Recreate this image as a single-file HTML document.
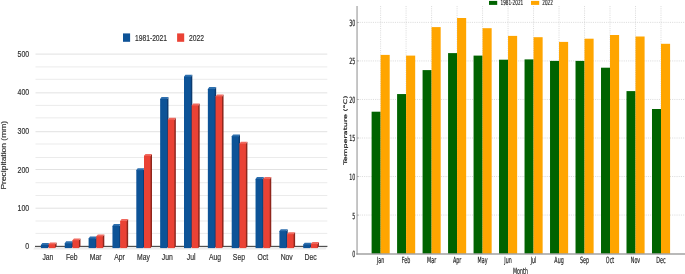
<!DOCTYPE html>
<html lang="en">
<head>
<meta charset="utf-8">
<title>Precipitation and temperature charts</title>
<style>
html,body{margin:0;padding:0;background:#fff;}
body{width:685px;height:274px;overflow:hidden;}
svg{display:block;}
.lt{font-family:"Liberation Sans",Arial,sans-serif;font-size:9px;fill:#303030;stroke:#303030;stroke-width:0.18px;}
.rt{font-family:"DejaVu Sans","Liberation Sans",sans-serif;font-size:8.6px;fill:#222;stroke:#222;stroke-width:0.2px;}
.rg{stroke:#cfcfcf;stroke-width:0.7;stroke-dasharray:1.1 1.1;}
</style>
</head>
<body>
<svg width="685" height="274" viewBox="0 0 685 274">
<rect width="685" height="274" fill="#ffffff"/>
<defs><filter id="soft" x="0" y="0" width="685" height="274" filterUnits="userSpaceOnUse"><feGaussianBlur stdDeviation="0.4"/></filter></defs>
<g id="precip-shapes" filter="url(#soft)">
<rect x="35.5" y="232.90" width="291.8" height="1" fill="#ebebeb"/>
<rect x="35.5" y="220.50" width="291.8" height="1" fill="#ebebeb"/>
<rect x="35.5" y="207.70" width="291.8" height="1" fill="#e2e2e2"/>
<rect x="35.5" y="195.00" width="291.8" height="1" fill="#ebebeb"/>
<rect x="35.5" y="182.20" width="291.8" height="1" fill="#ebebeb"/>
<rect x="35.5" y="169.00" width="291.8" height="1" fill="#e2e2e2"/>
<rect x="35.5" y="157.00" width="291.8" height="1" fill="#ebebeb"/>
<rect x="35.5" y="143.50" width="291.8" height="1" fill="#ebebeb"/>
<rect x="35.5" y="131.20" width="291.8" height="1" fill="#e2e2e2"/>
<rect x="35.5" y="117.35" width="291.8" height="1" fill="#ebebeb"/>
<rect x="35.5" y="104.90" width="291.8" height="1" fill="#ebebeb"/>
<rect x="35.5" y="92.35" width="291.8" height="1" fill="#e2e2e2"/>
<rect x="35.5" y="78.80" width="291.8" height="1" fill="#ebebeb"/>
<rect x="35.5" y="66.40" width="291.8" height="1" fill="#ebebeb"/>
<rect x="35.5" y="53.60" width="291.8" height="1" fill="#e2e2e2"/>
<polygon points="35,246.6 327.3,246.6 325.6,249.4 33.2,249.4" fill="#ececec"/>
<rect x="35" y="245.85" width="292.4" height="0.95" fill="#2b2b2b"/>
<polygon points="46.80,244.90 47.80,244.90 49.20,243.00 49.20,246.20 47.80,248.10 46.80,248.10" fill="#0a3a70"/>
<polygon points="40.90,245.50 40.90,244.90 42.30,243.00 49.20,243.00 47.80,244.90 47.80,245.50" fill="#2f6fae"/>
<rect x="40.90" y="244.90" width="6.90" height="3.20" fill="#0e5397"/>
<polygon points="54.10,244.30 55.10,244.30 56.60,242.40 56.60,246.20 55.10,248.10 54.10,248.10" fill="#8f271e"/>
<polygon points="48.60,244.90 48.60,244.30 50.10,242.40 56.60,242.40 55.10,244.30 55.10,244.90" fill="#f0695e"/>
<rect x="48.60" y="244.30" width="6.50" height="3.80" fill="#ea4336"/>
<polygon points="70.65,243.20 71.65,243.20 73.05,241.30 73.05,246.20 71.65,248.10 70.65,248.10" fill="#0a3a70"/>
<polygon points="64.75,243.80 64.75,243.20 66.15,241.30 73.05,241.30 71.65,243.20 71.65,243.80" fill="#2f6fae"/>
<rect x="64.75" y="243.20" width="6.90" height="4.90" fill="#0e5397"/>
<polygon points="77.95,240.30 78.95,240.30 80.45,238.40 80.45,246.20 78.95,248.10 77.95,248.10" fill="#8f271e"/>
<polygon points="72.45,240.90 72.45,240.30 73.95,238.40 80.45,238.40 78.95,240.30 78.95,240.90" fill="#f0695e"/>
<rect x="72.45" y="240.30" width="6.50" height="7.80" fill="#ea4336"/>
<polygon points="94.50,238.50 95.50,238.50 96.90,236.60 96.90,246.20 95.50,248.10 94.50,248.10" fill="#0a3a70"/>
<polygon points="88.60,239.10 88.60,238.50 90.00,236.60 96.90,236.60 95.50,238.50 95.50,239.10" fill="#2f6fae"/>
<rect x="88.60" y="238.50" width="6.90" height="9.60" fill="#0e5397"/>
<polygon points="101.80,236.30 102.80,236.30 104.30,234.40 104.30,246.20 102.80,248.10 101.80,248.10" fill="#8f271e"/>
<polygon points="96.30,236.90 96.30,236.30 97.80,234.40 104.30,234.40 102.80,236.30 102.80,236.90" fill="#f0695e"/>
<rect x="96.30" y="236.30" width="6.50" height="11.80" fill="#ea4336"/>
<polygon points="118.35,225.90 119.35,225.90 120.75,224.00 120.75,246.20 119.35,248.10 118.35,248.10" fill="#0a3a70"/>
<polygon points="112.45,226.50 112.45,225.90 113.85,224.00 120.75,224.00 119.35,225.90 119.35,226.50" fill="#2f6fae"/>
<rect x="112.45" y="225.90" width="6.90" height="22.20" fill="#0e5397"/>
<polygon points="125.65,221.00 126.65,221.00 128.15,219.10 128.15,246.20 126.65,248.10 125.65,248.10" fill="#8f271e"/>
<polygon points="120.15,221.60 120.15,221.00 121.65,219.10 128.15,219.10 126.65,221.00 126.65,221.60" fill="#f0695e"/>
<rect x="120.15" y="221.00" width="6.50" height="27.10" fill="#ea4336"/>
<polygon points="142.20,170.10 143.20,170.10 144.60,168.20 144.60,246.20 143.20,248.10 142.20,248.10" fill="#0a3a70"/>
<polygon points="136.30,170.70 136.30,170.10 137.70,168.20 144.60,168.20 143.20,170.10 143.20,170.70" fill="#2f6fae"/>
<rect x="136.30" y="170.10" width="6.90" height="78.00" fill="#0e5397"/>
<polygon points="149.50,155.80 150.50,155.80 152.00,153.90 152.00,246.20 150.50,248.10 149.50,248.10" fill="#8f271e"/>
<polygon points="144.00,156.40 144.00,155.80 145.50,153.90 152.00,153.90 150.50,155.80 150.50,156.40" fill="#f0695e"/>
<rect x="144.00" y="155.80" width="6.50" height="92.30" fill="#ea4336"/>
<polygon points="166.05,98.90 167.05,98.90 168.45,97.00 168.45,246.20 167.05,248.10 166.05,248.10" fill="#0a3a70"/>
<polygon points="160.15,99.50 160.15,98.90 161.55,97.00 168.45,97.00 167.05,98.90 167.05,99.50" fill="#2f6fae"/>
<rect x="160.15" y="98.90" width="6.90" height="149.20" fill="#0e5397"/>
<polygon points="173.35,119.70 174.35,119.70 175.85,117.80 175.85,246.20 174.35,248.10 173.35,248.10" fill="#8f271e"/>
<polygon points="167.85,120.30 167.85,119.70 169.35,117.80 175.85,117.80 174.35,119.70 174.35,120.30" fill="#f0695e"/>
<rect x="167.85" y="119.70" width="6.50" height="128.40" fill="#ea4336"/>
<polygon points="189.90,76.70 190.90,76.70 192.30,74.80 192.30,246.20 190.90,248.10 189.90,248.10" fill="#0a3a70"/>
<polygon points="184.00,77.30 184.00,76.70 185.40,74.80 192.30,74.80 190.90,76.70 190.90,77.30" fill="#2f6fae"/>
<rect x="184.00" y="76.70" width="6.90" height="171.40" fill="#0e5397"/>
<polygon points="197.20,105.50 198.20,105.50 199.70,103.60 199.70,246.20 198.20,248.10 197.20,248.10" fill="#8f271e"/>
<polygon points="191.70,106.10 191.70,105.50 193.20,103.60 199.70,103.60 198.20,105.50 198.20,106.10" fill="#f0695e"/>
<rect x="191.70" y="105.50" width="6.50" height="142.60" fill="#ea4336"/>
<polygon points="213.75,89.00 214.75,89.00 216.15,87.10 216.15,246.20 214.75,248.10 213.75,248.10" fill="#0a3a70"/>
<polygon points="207.85,89.60 207.85,89.00 209.25,87.10 216.15,87.10 214.75,89.00 214.75,89.60" fill="#2f6fae"/>
<rect x="207.85" y="89.00" width="6.90" height="159.10" fill="#0e5397"/>
<polygon points="221.05,96.40 222.05,96.40 223.55,94.50 223.55,246.20 222.05,248.10 221.05,248.10" fill="#8f271e"/>
<polygon points="215.55,97.00 215.55,96.40 217.05,94.50 223.55,94.50 222.05,96.40 222.05,97.00" fill="#f0695e"/>
<rect x="215.55" y="96.40" width="6.50" height="151.70" fill="#ea4336"/>
<polygon points="237.60,136.30 238.60,136.30 240.00,134.40 240.00,246.20 238.60,248.10 237.60,248.10" fill="#0a3a70"/>
<polygon points="231.70,136.90 231.70,136.30 233.10,134.40 240.00,134.40 238.60,136.30 238.60,136.90" fill="#2f6fae"/>
<rect x="231.70" y="136.30" width="6.90" height="111.80" fill="#0e5397"/>
<polygon points="244.90,143.70 245.90,143.70 247.40,141.80 247.40,246.20 245.90,248.10 244.90,248.10" fill="#8f271e"/>
<polygon points="239.40,144.30 239.40,143.70 240.90,141.80 247.40,141.80 245.90,143.70 245.90,144.30" fill="#f0695e"/>
<rect x="239.40" y="143.70" width="6.50" height="104.40" fill="#ea4336"/>
<polygon points="261.45,178.90 262.45,178.90 263.85,177.00 263.85,246.20 262.45,248.10 261.45,248.10" fill="#0a3a70"/>
<polygon points="255.55,179.50 255.55,178.90 256.95,177.00 263.85,177.00 262.45,178.90 262.45,179.50" fill="#2f6fae"/>
<rect x="255.55" y="178.90" width="6.90" height="69.20" fill="#0e5397"/>
<polygon points="268.75,178.90 269.75,178.90 271.25,177.00 271.25,246.20 269.75,248.10 268.75,248.10" fill="#8f271e"/>
<polygon points="263.25,179.50 263.25,178.90 264.75,177.00 271.25,177.00 269.75,178.90 269.75,179.50" fill="#f0695e"/>
<rect x="263.25" y="178.90" width="6.50" height="69.20" fill="#ea4336"/>
<polygon points="285.30,231.10 286.30,231.10 287.70,229.20 287.70,246.20 286.30,248.10 285.30,248.10" fill="#0a3a70"/>
<polygon points="279.40,231.70 279.40,231.10 280.80,229.20 287.70,229.20 286.30,231.10 286.30,231.70" fill="#2f6fae"/>
<rect x="279.40" y="231.10" width="6.90" height="17.00" fill="#0e5397"/>
<polygon points="292.60,234.10 293.60,234.10 295.10,232.20 295.10,246.20 293.60,248.10 292.60,248.10" fill="#8f271e"/>
<polygon points="287.10,234.70 287.10,234.10 288.60,232.20 295.10,232.20 293.60,234.10 293.60,234.70" fill="#f0695e"/>
<rect x="287.10" y="234.10" width="6.50" height="14.00" fill="#ea4336"/>
<polygon points="309.15,244.60 310.15,244.60 311.55,242.70 311.55,246.20 310.15,248.10 309.15,248.10" fill="#0a3a70"/>
<polygon points="303.25,245.20 303.25,244.60 304.65,242.70 311.55,242.70 310.15,244.60 310.15,245.20" fill="#2f6fae"/>
<rect x="303.25" y="244.60" width="6.90" height="3.50" fill="#0e5397"/>
<polygon points="316.45,243.90 317.45,243.90 318.95,242.00 318.95,246.20 317.45,248.10 316.45,248.10" fill="#8f271e"/>
<polygon points="310.95,244.50 310.95,243.90 312.45,242.00 318.95,242.00 317.45,243.90 317.45,244.50" fill="#f0695e"/>
<rect x="310.95" y="243.90" width="6.50" height="4.20" fill="#ea4336"/>
<rect x="123" y="33.4" width="7.1" height="8.4" fill="#0e5397"/>
<rect x="177.1" y="33.4" width="7.1" height="8.4" fill="#ea4336"/>
</g>
<g id="temp-shapes" filter="url(#soft)">
<line x1="357.5" y1="215.06" x2="685" y2="215.06" class="rg"/>
<line x1="357.5" y1="176.53" x2="685" y2="176.53" class="rg"/>
<line x1="357.5" y1="138.00" x2="685" y2="138.00" class="rg"/>
<line x1="357.5" y1="99.46" x2="685" y2="99.46" class="rg"/>
<line x1="357.5" y1="60.93" x2="685" y2="60.93" class="rg"/>
<line x1="357.5" y1="22.39" x2="685" y2="22.39" class="rg"/>
<line x1="380.60" y1="6" x2="380.60" y2="253.60" class="rg"/>
<line x1="406.09" y1="6" x2="406.09" y2="253.60" class="rg"/>
<line x1="431.58" y1="6" x2="431.58" y2="253.60" class="rg"/>
<line x1="457.07" y1="6" x2="457.07" y2="253.60" class="rg"/>
<line x1="482.56" y1="6" x2="482.56" y2="253.60" class="rg"/>
<line x1="508.05" y1="6" x2="508.05" y2="253.60" class="rg"/>
<line x1="533.54" y1="6" x2="533.54" y2="253.60" class="rg"/>
<line x1="559.03" y1="6" x2="559.03" y2="253.60" class="rg"/>
<line x1="584.52" y1="6" x2="584.52" y2="253.60" class="rg"/>
<line x1="610.01" y1="6" x2="610.01" y2="253.60" class="rg"/>
<line x1="635.50" y1="6" x2="635.50" y2="253.60" class="rg"/>
<line x1="660.99" y1="6" x2="660.99" y2="253.60" class="rg"/>
<rect x="371.60" y="111.70" width="9.00" height="141.90" fill="#006400"/>
<rect x="380.60" y="54.90" width="9.10" height="198.70" fill="#ffa500"/>
<rect x="397.09" y="94.05" width="9.00" height="159.55" fill="#006400"/>
<rect x="406.09" y="55.60" width="9.10" height="198.00" fill="#ffa500"/>
<rect x="422.58" y="70.10" width="9.00" height="183.50" fill="#006400"/>
<rect x="431.58" y="27.10" width="9.10" height="226.50" fill="#ffa500"/>
<rect x="448.07" y="53.10" width="9.00" height="200.50" fill="#006400"/>
<rect x="457.07" y="18.00" width="9.10" height="235.60" fill="#ffa500"/>
<rect x="473.56" y="55.60" width="9.00" height="198.00" fill="#006400"/>
<rect x="482.56" y="28.20" width="9.10" height="225.40" fill="#ffa500"/>
<rect x="499.05" y="59.70" width="9.00" height="193.90" fill="#006400"/>
<rect x="508.05" y="35.90" width="9.10" height="217.70" fill="#ffa500"/>
<rect x="524.54" y="59.40" width="9.00" height="194.20" fill="#006400"/>
<rect x="533.54" y="37.20" width="9.10" height="216.40" fill="#ffa500"/>
<rect x="550.03" y="60.90" width="9.00" height="192.70" fill="#006400"/>
<rect x="559.03" y="41.90" width="9.10" height="211.70" fill="#ffa500"/>
<rect x="575.52" y="60.90" width="9.00" height="192.70" fill="#006400"/>
<rect x="584.52" y="38.70" width="9.10" height="214.90" fill="#ffa500"/>
<rect x="601.01" y="67.70" width="9.00" height="185.90" fill="#006400"/>
<rect x="610.01" y="35.00" width="9.10" height="218.60" fill="#ffa500"/>
<rect x="626.50" y="91.10" width="9.00" height="162.50" fill="#006400"/>
<rect x="635.50" y="36.50" width="9.10" height="217.10" fill="#ffa500"/>
<rect x="651.99" y="109.00" width="9.00" height="144.60" fill="#006400"/>
<rect x="660.99" y="43.80" width="9.10" height="209.80" fill="#ffa500"/>
<rect x="356.4" y="6" width="1.3" height="248.6" fill="#a8a8a8"/>
<rect x="356.3" y="253.4" width="328.70" height="1.2" fill="#8c8c8c"/>
<rect x="357.5" y="214.76" width="1.0" height="0.6" fill="#555"/>
<rect x="357.5" y="176.23" width="1.0" height="0.6" fill="#555"/>
<rect x="357.5" y="137.69" width="1.0" height="0.6" fill="#555"/>
<rect x="357.5" y="99.16" width="1.0" height="0.6" fill="#555"/>
<rect x="357.5" y="60.63" width="1.0" height="0.6" fill="#555"/>
<rect x="357.5" y="22.09" width="1.0" height="0.6" fill="#555"/>
<rect x="489" y="0.9" width="8.2" height="4" fill="#006400"/>
<rect x="531" y="0.9" width="8.2" height="4" fill="#ffa500"/>
</g>
<g id="precip-text">
<text transform="translate(29.2,249.17) scale(0.775,1)" text-anchor="end" class="lt">0</text>
<text transform="translate(29.2,210.92) scale(0.775,1)" text-anchor="end" class="lt">100</text>
<text transform="translate(29.2,172.92) scale(0.775,1)" text-anchor="end" class="lt">200</text>
<text transform="translate(29.2,134.42) scale(0.775,1)" text-anchor="end" class="lt">300</text>
<text transform="translate(29.2,95.27) scale(0.775,1)" text-anchor="end" class="lt">400</text>
<text transform="translate(29.2,57.42) scale(0.775,1)" text-anchor="end" class="lt">500</text>
<text transform="translate(47.90,260.25) scale(0.76,1)" text-anchor="middle" class="lt">Jan</text>
<text transform="translate(71.78,260.25) scale(0.76,1)" text-anchor="middle" class="lt">Feb</text>
<text transform="translate(95.66,260.25) scale(0.76,1)" text-anchor="middle" class="lt">Mar</text>
<text transform="translate(119.54,260.25) scale(0.76,1)" text-anchor="middle" class="lt">Apr</text>
<text transform="translate(143.42,260.25) scale(0.76,1)" text-anchor="middle" class="lt">May</text>
<text transform="translate(167.30,260.25) scale(0.76,1)" text-anchor="middle" class="lt">Jun</text>
<text transform="translate(191.18,260.25) scale(0.76,1)" text-anchor="middle" class="lt">Jul</text>
<text transform="translate(215.06,260.25) scale(0.76,1)" text-anchor="middle" class="lt">Aug</text>
<text transform="translate(238.94,260.25) scale(0.76,1)" text-anchor="middle" class="lt">Sep</text>
<text transform="translate(262.82,260.25) scale(0.76,1)" text-anchor="middle" class="lt">Oct</text>
<text transform="translate(286.70,260.25) scale(0.76,1)" text-anchor="middle" class="lt">Nov</text>
<text transform="translate(310.58,260.25) scale(0.76,1)" text-anchor="middle" class="lt">Dec</text>
<text transform="translate(6.1,155.25) rotate(-90) scale(0.94,0.76)" text-anchor="middle" class="lt">Precipitation (mm)</text>
<text transform="translate(134.9,40.5) scale(0.75,1)" class="lt">1981-2021</text>
<text transform="translate(189,40.5) scale(0.75,1)" class="lt">2022</text>
</g>
<g id="temp-text">
<text transform="translate(355.3,257.05) scale(0.56,1)" text-anchor="end" class="rt">0</text>
<text transform="translate(355.3,218.51) scale(0.56,1)" text-anchor="end" class="rt">5</text>
<text transform="translate(355.3,179.98) scale(0.56,1)" text-anchor="end" class="rt">10</text>
<text transform="translate(355.3,141.44) scale(0.56,1)" text-anchor="end" class="rt">15</text>
<text transform="translate(355.3,102.91) scale(0.56,1)" text-anchor="end" class="rt">20</text>
<text transform="translate(355.3,64.38) scale(0.56,1)" text-anchor="end" class="rt">25</text>
<text transform="translate(355.3,25.84) scale(0.56,1)" text-anchor="end" class="rt">30</text>
<text transform="translate(380.60,263.4) scale(0.56,1)" text-anchor="middle" class="rt">Jan</text>
<text transform="translate(406.09,263.4) scale(0.56,1)" text-anchor="middle" class="rt">Feb</text>
<text transform="translate(431.58,263.4) scale(0.56,1)" text-anchor="middle" class="rt">Mar</text>
<text transform="translate(457.07,263.4) scale(0.56,1)" text-anchor="middle" class="rt">Apr</text>
<text transform="translate(482.56,263.4) scale(0.56,1)" text-anchor="middle" class="rt">May</text>
<text transform="translate(508.05,263.4) scale(0.56,1)" text-anchor="middle" class="rt">Jun</text>
<text transform="translate(533.54,263.4) scale(0.56,1)" text-anchor="middle" class="rt">Jul</text>
<text transform="translate(559.03,263.4) scale(0.56,1)" text-anchor="middle" class="rt">Aug</text>
<text transform="translate(584.52,263.4) scale(0.56,1)" text-anchor="middle" class="rt">Sep</text>
<text transform="translate(610.01,263.4) scale(0.56,1)" text-anchor="middle" class="rt">Oct</text>
<text transform="translate(635.50,263.4) scale(0.56,1)" text-anchor="middle" class="rt">Nov</text>
<text transform="translate(660.99,263.4) scale(0.56,1)" text-anchor="middle" class="rt">Dec</text>
<text transform="translate(520.5,274.0) scale(0.56,1)" text-anchor="middle" class="rt">Month</text>
<text transform="translate(346.6,130.2) rotate(-90) scale(0.93,0.56)" text-anchor="middle" class="rt" style="stroke:#222;stroke-width:0.35px">Temperature (°C)</text>
<text transform="translate(500.6,5.3) scale(0.56,1)" class="rt" style="font-size:7.4px">1981-2021</text>
<text transform="translate(542.3,5.3) scale(0.56,1)" class="rt" style="font-size:7.4px">2022</text>
</g>
</svg>
</body>
</html>
